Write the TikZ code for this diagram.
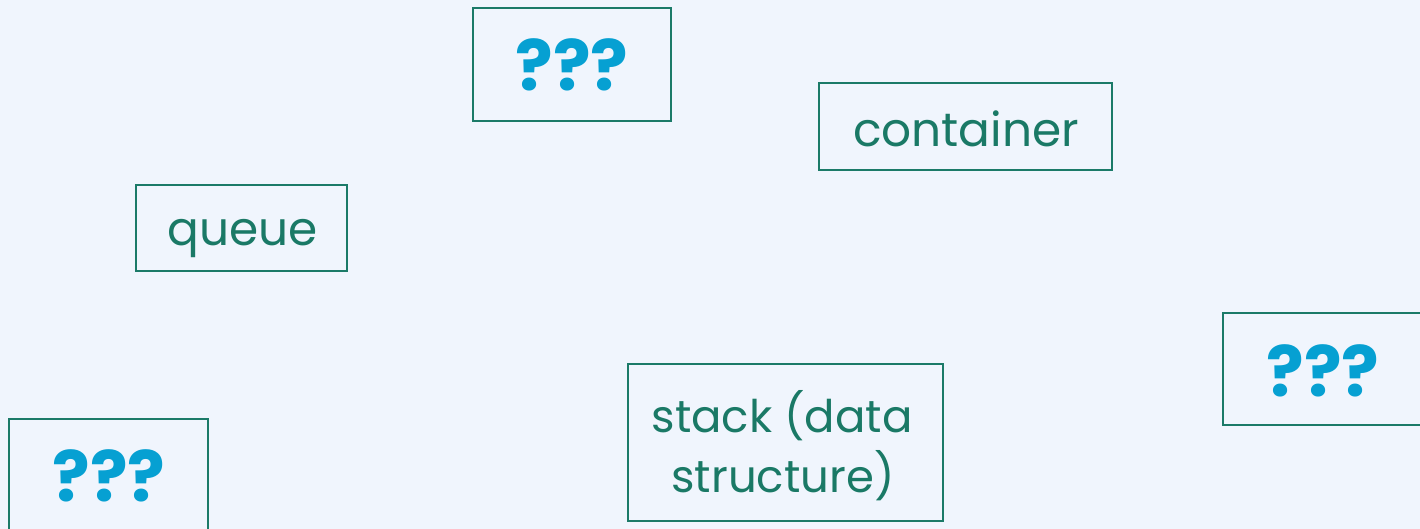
\documentclass[tikz,border=0pt]{standalone}
\usepackage{fontspec}
\setmainfont{Poppins}
\definecolor{bgcol}{HTML}{F0F5FD}
\definecolor{framecol}{HTML}{1B7A68}
\definecolor{termcol}{HTML}{1A7966}
\definecolor{askcol}{HTML}{06A0D2}
\tikzset{
  box/.style={draw=framecol, line width=2pt, inner sep=0pt},
  termtext/.style={inner sep=0pt, anchor=base, text=termcol,
    font=\fontsize{47}{60}\selectfont},
  asktext/.style={inner sep=0pt, anchor=base, text=askcol,
    font=\fontsize{70}{70}\bfseries\selectfont}
}
\begin{document}
\begin{tikzpicture}[x=1pt,y=-1pt]
  \fill[bgcol] (0,0) rectangle (1420,529);
  \useasboundingbox (0,0) rectangle (1420,529);
  % frames
  \node[box, minimum width=198pt, minimum height=113pt] (top) at (572,64.5) {};
  \node[box, minimum width=293pt, minimum height=87pt] (container) at (965.5,126.5) {};
  \node[box, minimum width=211pt, minimum height=86pt] (queue) at (241.5,228) {};
  \node[box, minimum width=200pt, minimum height=112pt] (right) at (1323,369) {};
  \node[box, minimum width=315pt, minimum height=157pt] (stack) at (785.5,442.5) {};
  \node[box, minimum width=199pt, minimum height=113pt] (left) at (108.5,475.5) {};
  % labels, set on their baselines
  \node[asktext] (topq) at (572,91) {???};
  \node[termtext] (containerl) at (966,147) {container};
  \node[termtext] (queuel) at (243,245) {queue};
  \node[asktext] (rightq) at (1323,396) {???};
  \node[termtext, font=\fontsize{45}{60}\selectfont] (stackl1) at (782,432) {stack (data};
  \node[termtext, font=\fontsize{45}{60}\selectfont] (stackl2) at (783,492) {structure)};
  \node[asktext] (leftq) at (109,501) {???};
\end{tikzpicture}
\end{document}
